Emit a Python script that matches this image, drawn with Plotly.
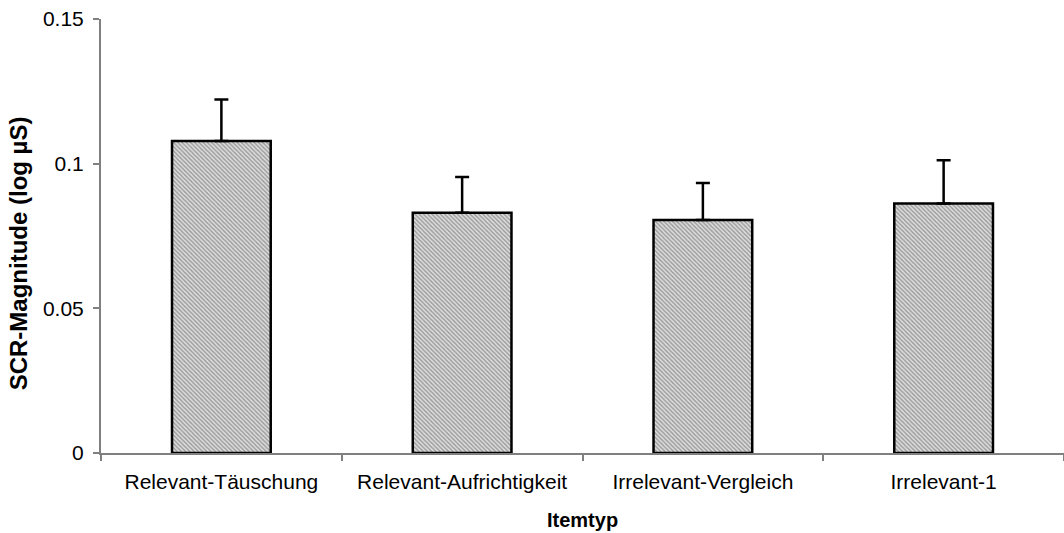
import plotly.graph_objects as go

categories = ["Relevant-Täuschung", "Relevant-Aufrichtigkeit", "Irrelevant-Vergleich", "Irrelevant-1"]
values = [0.1078, 0.0830, 0.0805, 0.0862]
errors = [0.0144, 0.0124, 0.0128, 0.0150]
y_ticks = [0, 0.05, 0.1, 0.15]
y_tick_labels = ["0", "0.05", "0.1", "0.15"]

fig = go.Figure()
fig.add_trace(go.Bar(
    x=categories, y=values, width=0.41,
    marker=dict(
        color="#d0d0d0",
        line=dict(color="black", width=2.5),
        pattern=dict(shape="\\", fgcolor="#5a5a5a", bgcolor="#e0e0e0", size=3, solidity=0.5),
    ),
    error_y=dict(type="data", array=errors, arrayminus=[0] * len(errors), symmetric=False,
                 color="black", thickness=2.5, width=7),
))

fig.update_layout(
    width=1064, height=533,
    margin=dict(l=101, r=0, t=19, b=80),
    plot_bgcolor="white", paper_bgcolor="white",
    font=dict(family="Liberation Sans, Arial", size=21, color="black"),
    showlegend=False,
    xaxis=dict(
        type="category", range=[-0.5, 3.5], automargin=False,
        showline=True, linecolor="#808080", linewidth=2,
        ticks="outside", tickson="boundaries", ticklen=6, tickcolor="#808080", tickwidth=1.5,
        showgrid=False, tickfont=dict(size=21), ticklabelstandoff=9,
    ),
    yaxis=dict(
        range=[0, 0.15], tickvals=y_ticks, ticktext=y_tick_labels, automargin=False,
        showline=True, linecolor="#808080", linewidth=2,
        ticks="outside", ticklen=6, tickcolor="#808080", tickwidth=1.5,
        showgrid=False, zeroline=False, tickfont=dict(size=21), ticklabelstandoff=5,
    ),
    annotations=[
        dict(text="<b>Itemtyp</b>", xref="paper", yref="paper", x=0.5, y=-0.154,
             xanchor="center", yanchor="middle", showarrow=False, font=dict(size=20)),
        dict(text="<b>SCR-Magnitude (log µS)</b>", xref="paper", yref="paper", x=-0.0862, y=0.46,
             xanchor="center", yanchor="middle", textangle=-90, showarrow=False, font=dict(size=24)),
    ],
)

fig.write_html(
    "out.html",
    config={"displayModeBar": False},
    post_script="document.body.style.margin='0';document.body.style.overflow='hidden';",
)
